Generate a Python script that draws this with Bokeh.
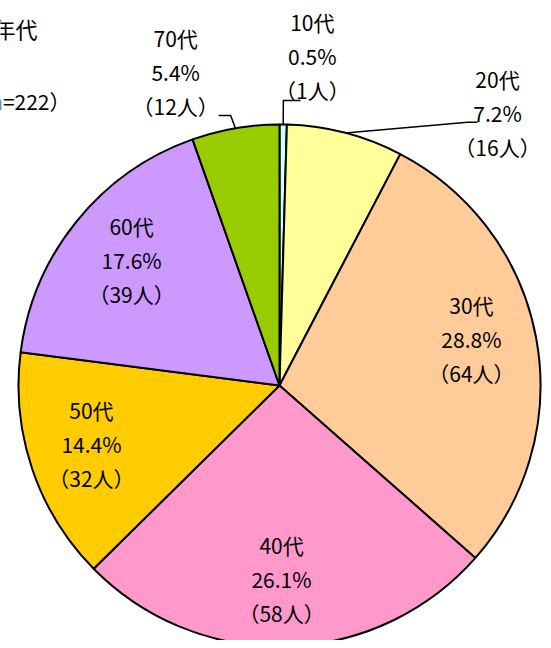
import math
from bokeh.plotting import figure
from bokeh.models import Range1d, ColumnDataSource
from bokeh.core.properties import value
from bokeh.embed import file_html
from bokeh.resources import INLINE

# ---- data ----
categories = ["10代", "20代", "30代", "40代", "50代", "60代", "70代"]
counts = [1, 16, 64, 58, 32, 39, 12]
percents = [0.5, 7.2, 28.8, 26.1, 14.4, 17.6, 5.4]
colors = ["#CCFFFF", "#FFFF99", "#FFCC99", "#FF99CC", "#FFCC00", "#CC99FF", "#99CC00"]
title_lines = ["年代", "（n=222）"]

# ---- layout ----
W, H = 543, 640
CX, CY, R = 279, 255, 261
FONT = "Noto Sans CJK JP"
label_polar = [(84.3, 1.267), (51.3, 1.336), (13.75, 0.757), (-89.4, 0.743),
               (-162.6, 0.755), (139.8, 0.742), (108.3, 1.267)]
leader_offsets = {0: [(-29, -44), (-12, -44)],
                  1: [(-30, -9), (-20, -9)],
                  6: [(55, -44), (43, -44)]}
LINE_GAP = 34

total = sum(counts)
starts, ends, mids = [], [], []
cum = 0
for c in counts:
    s = 90 - cum / total * 360
    cum += c
    e = 90 - cum / total * 360
    starts.append(s)
    ends.append(e)
    mids.append((s + e) / 2)

p = figure(width=W, height=H, x_range=Range1d(0, W), y_range=Range1d(0, H),
           x_axis_type=None, y_axis_type=None, toolbar_location=None,
           output_backend="svg", min_border=0, outline_line_color=None)
p.grid.visible = False
p.background_fill_color = "white"
p.border_fill_color = "white"

src = ColumnDataSource(dict(start=starts, end=ends, color=colors, cat=categories))
p.wedge(x=CX, y=CY, radius=R, start_angle="start", end_angle="end",
        start_angle_units="deg", end_angle_units="deg", direction="clock",
        fill_color="color", line_color="black", line_width=2, source=src)

# labels
lx, ly = [], []
for ang, rf in label_polar:
    a = math.radians(ang)
    lx.append(CX + rf * R * math.cos(a))
    ly.append(CY + rf * R * math.sin(a))

tx, ty, tt = [], [], []
for i in range(len(categories)):
    lines = [categories[i], f"{percents[i]}%", f"（{counts[i]}人）"]
    for k, t in enumerate(lines):
        tx.append(lx[i])
        ty.append(ly[i] + LINE_GAP * (1 - k))
        tt.append(t)
p.text(x=tx, y=ty, text=tt, text_font=value(FONT), text_font_size="21px",
       text_align="center", text_baseline="middle", text_color="black")

# leader lines
xs, ys = [], []
for i, offs in leader_offsets.items():
    a = math.radians(mids[i])
    px = [CX + R * math.cos(a)] + [lx[i] + dx for dx, dy in offs]
    py = [CY + R * math.sin(a)] + [ly[i] + dy for dx, dy in offs]
    xs.append(px)
    ys.append(py)
p.multi_line(xs=xs, ys=ys, line_color="black", line_width=1.5)

# title (clipped at left edge as in reference)
p.text(x=[37], y=[613], text=[title_lines[0]], text_font=value(FONT),
       text_font_size="22px", text_align="right", text_baseline="middle",
       text_color="black")
p.text(x=[70], y=[540], text=[title_lines[1]], text_font=value(FONT),
       text_font_size="21px", text_align="right", text_baseline="middle",
       text_color="black")

open("out.html", "w").write(file_html(p, INLINE))
